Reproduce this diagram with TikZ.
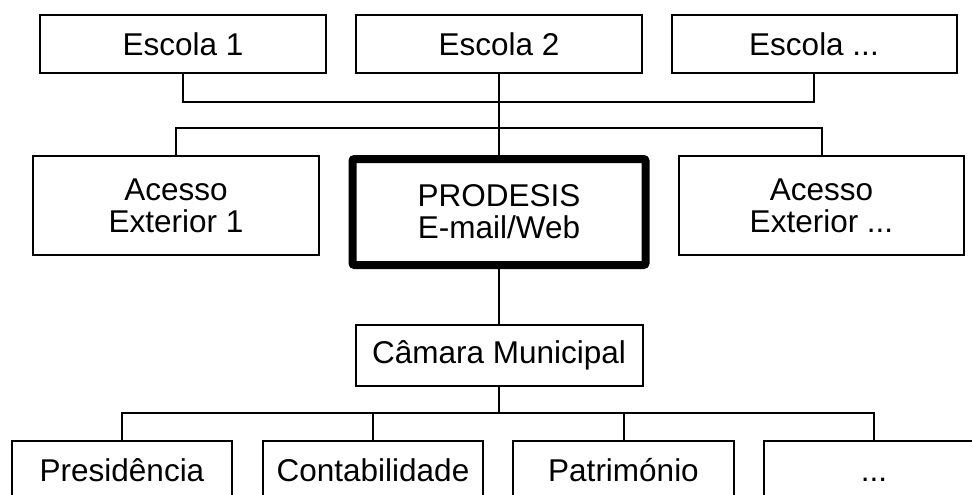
\documentclass[tikz,border=0pt]{standalone}
\usepackage{fontspec}
\setmainfont{Liberation Sans}
\begin{document}
\begin{tikzpicture}[x=1pt,y=-1pt,
  box/.style={draw,line width=2pt,rectangle,inner sep=0pt,align=center,
    font=\fontsize{31.5}{32}\selectfont},
  conn/.style={line width=2pt}]
\useasboundingbox (0,0) rectangle (972,495);
\clip (0,0) rectangle (972,495);
% top row
\node[box,minimum width=286pt,minimum height=58pt] (e1) at (183,44) {Escola 1};
\node[box,minimum width=286pt,minimum height=58pt] (e2) at (499,44) {Escola 2};
\node[box,minimum width=285pt,minimum height=58pt] (e3) at (814,44) {Escola ...};
% middle row
\node[box,minimum width=286pt,minimum height=99pt] (a1) at (176,205.5) {Acesso\\Exterior 1};
\node[box,line width=8pt,rounded corners=2pt,minimum width=293pt,minimum height=106pt] (pr) at (499,212) {PRODESIS\\E-mail/Web};
\node[box,minimum width=285pt,minimum height=99pt] (a3) at (821.5,205.5) {Acesso\\Exterior ...};
% camara
\node[box,minimum width=287pt,minimum height=61pt] (cm) at (499,355.5) {Câmara Municipal};
% bottom row
\node[box,minimum width=220pt,minimum height=58pt] (p1) at (122,470) {Presidência};
\node[box,minimum width=220pt,minimum height=58pt] (p2) at (373,470) {Contabilidade};
\node[box,minimum width=221pt,minimum height=58pt] (p3) at (623.5,470) {Património};
\node[box,minimum width=220pt,minimum height=58pt] (p4) at (874,470) {\vphantom{Pí}...};
% connectors
\coordinate (b1) at (499,102);
\coordinate (b2) at (499,128);
\coordinate (b3) at (499,413);
\draw[conn] (e1.south) |- (b1) -| (e3.south);
\draw[conn] (e2.south) -- (pr.north);
\draw[conn] (a1.north) |- (b2) -| (a3.north);
\draw[conn] (pr.south) -- (cm.north);
\draw[conn] (cm.south) -- (b3);
\draw[conn] (p1.north) |- (b3) -| (p4.north);
\draw[conn] (p2.north) |- (b3);
\draw[conn] (p3.north) |- (b3);
\end{tikzpicture}
\end{document}
